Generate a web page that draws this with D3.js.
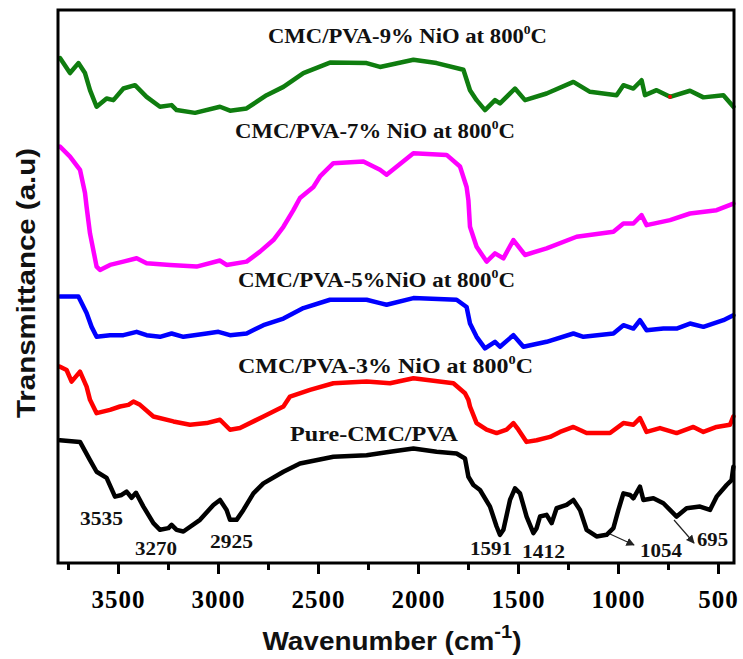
<!DOCTYPE html>
<html><head><meta charset="utf-8">
<script src="https://cdn.jsdelivr.net/npm/d3@7"></script>
<style>body{margin:0;background:#fff}svg{display:block}</style>
</head><body>
<svg id="chart" width="743" height="659"></svg>
<script>
// ---------- data (wavenumber in cm^-1, transmittance in a.u.) ----------
const pureX = [3790,3690,3640,3607,3557,3515,3482,3457,3432,3410,3373,3323,3290,3248,3232,3207,3173,3090,3023,2990,2957,2940,2907,2873,2823,2773,2673,2590,2423,2257,2140,2023,1907,1807,1765,1748,1723,1690,1640,1607,1590,1573,1540,1515,1490,1457,1423,1407,1390,1357,1332,1307,1257,1223,1190,1157,1107,1057,1023,998,973,940,923,890,873,823,773,707,657,590,540,507,457,432,423];
const pureY = [22.2,21.9,18.6,16.5,15.4,12.0,12.3,12.9,11.8,12.7,10.2,7.2,6.0,6.3,6.9,6.0,5.7,7.8,10.5,11.4,9.6,7.8,7.8,9.6,12.6,14.4,16.5,18.0,19.2,19.5,20.1,20.7,20.1,19.8,18.9,15.6,14.1,13.2,10.2,6.6,5.1,6.0,11.4,13.5,12.6,8.4,5.4,6.3,8.4,8.7,7.2,9.9,10.5,11.4,9.6,6.0,4.8,5.1,6.3,9.6,12.6,12.3,11.7,13.8,11.4,11.7,10.8,8.4,9.9,10.2,9.6,12.0,14.1,15.0,17.4];

const np3X = [3790,3757,3732,3690,3657,3640,3607,3540,3490,3448,3423,3390,3323,3223,3140,3057,2990,2940,2890,2773,2673,2640,2540,2423,2257,2140,2023,1823,1765,1748,1740,1707,1657,1607,1557,1523,1498,1457,1407,1340,1290,1223,1157,1040,973,923,890,857,790,707,623,573,507,440,423];
const np3Y = [35.5,34.9,32.8,34.6,31.9,29.5,27.1,27.7,28.3,28.6,29.2,28.6,26.5,25.6,25.0,25.3,25.9,24.1,24.4,26.5,28.3,30.1,31.3,32.5,32.8,32.5,33.4,32.5,30.7,29.5,28.3,25.3,24.1,23.5,24.1,25.3,24.1,21.9,22.2,22.8,23.7,24.6,23.5,23.5,25.3,25.0,26.2,23.7,24.4,23.5,24.6,23.7,24.6,25.0,26.5];

const np5X = [3790,3698,3657,3632,3607,3540,3473,3407,3357,3290,3232,3173,3057,2998,2940,2857,2773,2673,2573,2440,2257,2190,2157,2023,1807,1757,1740,1707,1665,1615,1590,1523,1473,1357,1223,1173,1023,973,923,890,857,773,707,640,573,473,423];
const np5Y = [48.2,48.2,45.2,42.7,40.9,41.2,41.2,41.8,41.2,40.9,41.5,40.9,41.5,41.8,41.2,41.5,43.0,44.2,46.1,47.6,47.6,47.0,46.7,47.9,47.6,46.3,43.3,40.9,38.8,40.0,39.1,41.2,39.1,40.0,41.5,40.9,41.5,43.0,42.4,43.9,42.1,42.4,42.4,43.3,42.7,43.9,44.8];

const np7X = [3790,3740,3690,3665,3657,3640,3607,3590,3540,3473,3407,3357,3240,3107,2990,2957,2857,2790,2723,2673,2623,2590,2523,2490,2423,2273,2190,2157,2023,1857,1790,1757,1748,1740,1707,1657,1615,1573,1523,1465,1357,1207,1023,973,923,882,857,740,640,507,423];
const np7Y = [75.3,73.5,71.1,66.9,64.4,59.6,53.6,53.0,53.9,54.5,55.1,54.2,53.9,53.6,54.7,53.9,54.5,56.3,58.4,60.8,63.8,66.0,68.0,69.9,72.3,72.6,71.1,70.2,74.1,73.8,71.7,68.0,65.6,60.8,57.2,54.5,56.0,55.1,58.4,55.7,56.9,59.0,59.9,61.4,61.4,62.9,61.1,62.0,63.2,63.8,65.0];

const np9X = [3790,3740,3698,3665,3640,3607,3557,3523,3473,3415,3357,3290,3232,3207,3115,2990,2940,2857,2757,2673,2573,2440,2257,2190,2023,1907,1773,1740,1707,1665,1615,1590,1515,1465,1357,1223,1140,1007,973,923,882,865,807,740,640,573,473,423];
const np9Y = [91.3,88.6,90.4,88.6,85.5,82.5,84.0,83.7,85.8,86.4,84.3,82.5,82.8,81.9,81.4,82.5,81.8,82.2,84.6,86.1,88.6,90.5,90.4,89.7,91.0,90.4,89.2,85.5,83.7,81.9,83.7,83.1,85.8,83.7,84.9,87.0,85.2,84.6,86.4,85.8,87.3,84.6,85.5,84.3,85.4,84.2,84.6,82.5];

const seriesNames = ["Pure-CMC/PVA","CMC/PVA-3% NiO at 800","CMC/PVA-5%NiO at 800","CMC/PVA-7% NiO at 800","CMC/PVA-9% NiO at 800"];
const seriesColors = ["#000000","#ff0000","#0000ff","#ff00ff","#0f7d0f"];
const majorTicks = [3500,3000,2500,2000,1500,1000,500];
const minorTicks = [3750,3250,2750,2250,1750,1250,750];
const peakLabels = ["3535","3270","2925","1591","1412","1054","695"];
const xDomain = [3800, 420];
const yDomain = [0, 100];

// ---------- drawing ----------
const svg = d3.select("#chart");
const L = 58, R = 734, T = 10, B = 563;
const x = d3.scaleLinear().domain(xDomain).range([L, R]);
const y = d3.scaleLinear().domain(yDomain).range([B, T]);

const serif = "'Liberation Serif','Times New Roman',serif";
const sans = "'Liberation Sans',Arial,sans-serif";

const line = d3.line().x(d => x(d[0])).y(d => y(d[1])).curve(d3.curveLinear);
const allSeries = [[pureX,pureY],[np3X,np3Y],[np5X,np5Y],[np7X,np7Y],[np9X,np9Y]];
allSeries.forEach((s, i) => {
  const pts = s[0].map((w, j) => [w, s[1][j]]);
  svg.append("path").datum(pts).attr("d", line)
    .attr("fill", "none").attr("stroke", seriesColors[i])
    .attr("stroke-width", 4.5).attr("stroke-linejoin", "round").attr("stroke-linecap", "round");
});
// small red spot on the green trace
svg.append("circle").attr("cx", x(740)).attr("cy", y(84.3)).attr("r", 2).attr("fill", "#ff0000");

// axes
const gMajor = svg.append("g").attr("transform", `translate(0,${B})`)
  .call(d3.axisBottom(x).tickValues(majorTicks).tickSize(11).tickFormat(d3.format("d")));
gMajor.select(".domain").remove();
gMajor.selectAll("line").attr("stroke", "#000").attr("stroke-width", 3);
gMajor.selectAll("text").attr("y", 27).attr("dy", "0.71em")
  .attr("font-family", serif).attr("font-weight", "bold").attr("font-size", 25)
  .attr("fill", "#000").attr("letter-spacing", 1);
const gMinor = svg.append("g").attr("transform", `translate(0,${B})`)
  .call(d3.axisBottom(x).tickValues(minorTicks).tickSize(7).tickFormat(""));
gMinor.select(".domain").remove();
gMinor.selectAll("line").attr("stroke", "#000").attr("stroke-width", 3);

// frame
svg.append("rect").attr("x", L).attr("y", T).attr("width", R - L).attr("height", B - T)
  .attr("fill", "none").attr("stroke", "#000").attr("stroke-width", 3);

// series labels
const labelPos = [[290,441,168],[238,373,295],[238,287,277],[235,138,280],[268,43,279]];
seriesNames.forEach((name, i) => {
  const p = labelPos[i];
  const t = svg.append("text").attr("x", p[0]).attr("y", p[1])
    .attr("font-family", serif).attr("font-weight", "bold").attr("font-size", 20)
    .attr("fill", "#111").attr("textLength", p[2]).attr("lengthAdjust", "spacingAndGlyphs");
  t.append("tspan").text(name);
  if (i > 0) {
    t.append("tspan").attr("font-size", 12).attr("dy", -9).text("0");
    t.append("tspan").attr("dy", 9).text("C");
  }
});

// peak annotations
const peakPos = [[80,525,43],[135,555,42],[210,548,43],[470,555,42],[522,558,43],[640,557,42],[697,546,31]];
peakLabels.forEach((lab, i) => {
  const p = peakPos[i];
  svg.append("text").attr("x", p[0]).attr("y", p[1]).text(lab)
    .attr("font-family", serif).attr("font-weight", "bold").attr("font-size", 19)
    .attr("fill", "#111").attr("textLength", p[2]).attr("lengthAdjust", "spacingAndGlyphs");
});
// arrows
const defs = svg.append("defs");
defs.append("marker").attr("id", "ah").attr("viewBox", "0 0 10 10").attr("refX", 9).attr("refY", 5)
  .attr("markerWidth", 7).attr("markerHeight", 7).attr("orient", "auto")
  .append("path").attr("d", "M0,0 L10,5 L0,10 z").attr("fill", "#222");
[[x(1040),534,634,545],[x(720),520,694,543]].forEach(a => {
  svg.append("line").attr("x1", a[0]).attr("y1", a[1]).attr("x2", a[2]).attr("y2", a[3])
    .attr("stroke", "#222").attr("stroke-width", 1.2).attr("marker-end", "url(#ah)");
});

// axis titles
const xt = svg.append("text").attr("x", 392).attr("y", 650).attr("text-anchor", "middle")
  .attr("font-family", sans).attr("font-weight", "bold").attr("font-size", 25).attr("fill", "#111")
  .attr("textLength", 259).attr("lengthAdjust", "spacingAndGlyphs");
xt.append("tspan").text("Wavenumber (cm");
xt.append("tspan").attr("font-size", 18).attr("dy", -12).text("-1");
xt.append("tspan").attr("dy", 12).text(")");

svg.append("text").attr("transform", "translate(35,283) rotate(-90)").attr("text-anchor", "middle")
  .attr("font-family", sans).attr("font-weight", "bold").attr("font-size", 25).attr("fill", "#111")
  .attr("textLength", 270).attr("lengthAdjust", "spacingAndGlyphs")
  .text("Transmittance (a.u)");
</script>
</body></html>
